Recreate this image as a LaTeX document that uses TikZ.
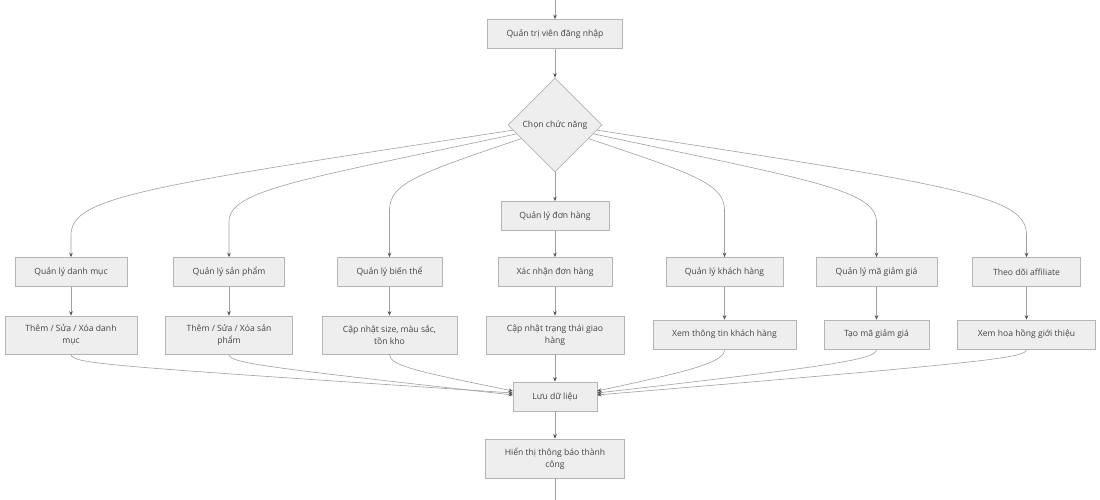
\documentclass[tikz,border=0pt]{standalone}
\usepackage{fontspec}
\setmainfont{Open Sans}
\usetikzlibrary{shapes.geometric,arrows.meta}
\definecolor{boxfill}{HTML}{EEEEEE}
\definecolor{boxline}{HTML}{B5B5B5}
\definecolor{edgeline}{HTML}{A0A0A0}
\definecolor{txt}{HTML}{444444}
\definecolor{tipc}{HTML}{555555}
\tikzset{
  box/.style={draw=boxline, fill=boxfill, line width=0.6pt, inner sep=0pt, align=center,
    text=txt, font=\fontsize{8.6}{12}\selectfont, minimum height=29},
  tallbox/.style={box, minimum height=38},
  dia/.style={diamond, draw=boxline, fill=boxfill, line width=0.6pt, inner sep=0pt,
    minimum width=94, minimum height=94, text=txt, font=\fontsize{8.6}{12}\selectfont},
  edge/.style={draw=edgeline, line width=0.6pt, -{Stealth[length=4.5pt,width=3.6pt,color=tipc]}},
  plain/.style={draw=edgeline, line width=0.6pt}
}
\begin{document}
\begin{tikzpicture}[x=1pt,y=-1pt]
\useasboundingbox[fill=white] (0,0) rectangle (1100,500);
\coordinate (top) at (555,0);
\coordinate (bot) at (555,500);
\node[box, minimum width=135] (a) at (555,34) {Quản trị viên đăng nhập};
\node[dia] (d) at (555,125) {Chọn chức năng};
\node[box, minimum width=108] (dh) at (555,216) {Quản lý đơn hàng};
% row 2
\node[box, minimum width=112] (q1) at (71,272) {Quản lý danh mục};
\node[box, minimum width=111] (q2) at (229,272) {Quản lý sản phẩm};
\node[box, minimum width=105] (q3) at (389.5,272) {Quản lý biến thể};
\node[box, minimum width=114] (q4) at (555,272) {Xác nhận đơn hàng};
\node[box, minimum width=117] (q5) at (724.5,272) {Quản lý khách hàng};
\node[box, minimum width=121] (q6) at (876.5,272) {Quản lý mã giảm giá};
\node[box, minimum width=108] (q7) at (1026.5,272) {Theo dõi affiliate};
% row 3
\node[tallbox, minimum width=132] (t1) at (71,335) {Thêm / Sửa / Xóa danh\\mục};
\node[tallbox, minimum width=127] (t2) at (229,335) {Thêm / Sửa / Xóa sản\\phẩm};
\node[tallbox, minimum width=135] (t3) at (389.5,335) {Cập nhật size, màu sắc,\\tồn kho};
\node[tallbox, minimum width=138] (t4) at (555,335) {Cập nhật trạng thái giao\\hàng};
\node[box, minimum width=143] (t5) at (724.5,334.5) {Xem thông tin khách hàng};
\node[box, minimum width=105] (t6) at (876.5,334.5) {Tạo mã giảm giá};
\node[box, minimum width=138] (t7) at (1026.5,334.5) {Xem hoa hồng giới thiệu};
% bottom
\node[box, minimum width=84] (l) at (555,396.5) {Lưu dữ liệu};
\node[tallbox, minimum width=139, minimum height=39] (h) at (555,458.5) {Hiển thị thông báo thành\\công};
% straight edges
\draw[edge] (top) -- (a);
\draw[edge] (a) -- (d);
\draw[edge] (d.south) -- (dh);
\draw[edge] (dh) -- (q4);
\draw[edge] (q4) -- (t4);
\draw[edge] (t4) -- (l);
\draw[edge] (l) -- (h);
\draw[plain] (h) -- (bot);
\foreach \i in {1,2,3,5,6,7} {\draw[edge] (q\i) -- (t\i);}
% diamond to row 2
\draw[edge] (d.187) .. controls (150,186) and (71,196) .. (71,235) -- (q1.north);
\draw[edge] (d.193) .. controls (300,180) and (229,190) .. (229,222) -- (q2.north);
\draw[edge] (d.202) .. controls (420,173) and (389.5,183) .. (389.5,210) -- (q3.north);
\draw[edge] (d.338) .. controls (690,173) and (724.5,183) .. (724.5,210) -- (q5.north);
\draw[edge] (d.347) .. controls (810,180) and (876.5,190) .. (876.5,222) -- (q6.north);
\draw[edge] (d.353) .. controls (960,186) and (1026.5,196) .. (1026.5,235) -- (q7.north);
% row 3 to save
\coordinate (l1) at (513,393);
\coordinate (l2) at (513,395);
\coordinate (l3) at (513,391);
\coordinate (r5) at (597,391);
\coordinate (r6) at (597,393);
\coordinate (r7) at (597,395);
\draw[edge] (t1.south) .. controls (71,364) and (110,366) .. (l1);
\draw[edge] (t2.south) .. controls (229,363) and (262,367) .. (l2);
\draw[edge] (t3.south) .. controls (389.5,366) and (420,372) .. (l3);
\draw[edge] (t5.south) .. controls (724.5,362) and (695,370) .. (r5);
\draw[edge] (t6.south) .. controls (876.5,359) and (842,365) .. (r6);
\draw[edge] (t7.south) .. controls (1026.5,358) and (990,362) .. (r7);
\end{tikzpicture}
\end{document}
